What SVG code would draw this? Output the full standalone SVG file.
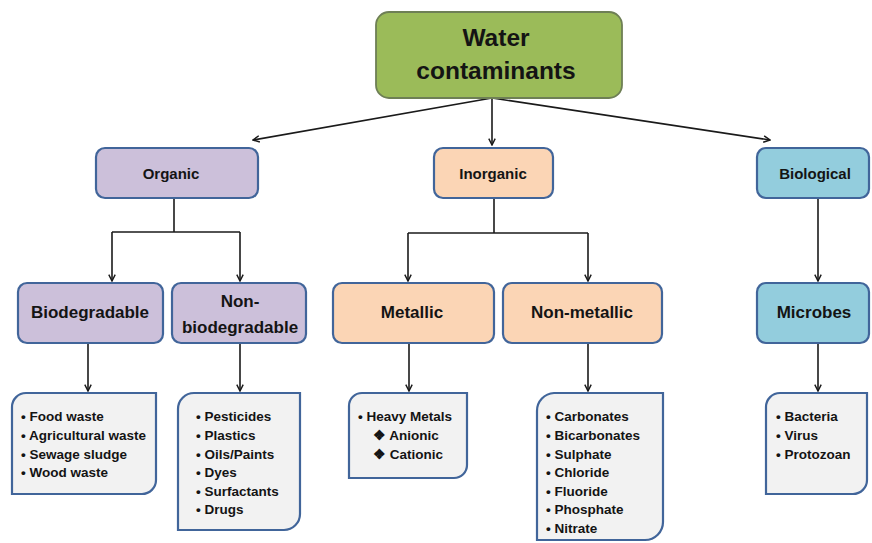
<svg xmlns="http://www.w3.org/2000/svg" width="872" height="543" viewBox="0 0 872 543">
  <style>
    text { font-family: "Liberation Sans", Arial, sans-serif; font-weight: bold; fill: #141414; }
    .box { stroke: #41659a; stroke-width: 2.2; }
    .org { fill: #ccc0da; }
    .inorg { fill: #fbd5b5; }
    .bio { fill: #93cddd; }
    .list { fill: #f2f2f2; stroke: #41659a; stroke-width: 2.2; }
    .t1 { font-size: 15px; text-anchor: middle; }
    .t2 { font-size: 17px; text-anchor: middle; }
    .li { font-size: 13.5px; }
    .conn line, .conn polyline { stroke: #1a1a1a; stroke-width: 1.6; fill: none; }
  </style>
  <defs>
    <marker id="arr" viewBox="0 0 10 10" refX="9" refY="5" markerWidth="8" markerHeight="8" orient="auto" markerUnits="userSpaceOnUse">
      <path d="M1,1 L9,5 L1,9" fill="none" stroke="#1a1a1a" stroke-width="1.8"/>
    </marker>
  </defs>
  <rect width="872" height="543" fill="#ffffff"/>

  <!-- connectors -->
  <g class="conn" id="connectors">
    <line x1="492" y1="98" x2="253" y2="140" marker-end="url(#arr)"/>
    <line x1="492" y1="98" x2="492" y2="145" marker-end="url(#arr)"/>
    <line x1="492" y1="98" x2="770" y2="140" marker-end="url(#arr)"/>

    <polyline points="174,198 174,232"/>
    <polyline points="112,232 240,232"/>
    <line x1="112" y1="232" x2="112" y2="281" marker-end="url(#arr)"/>
    <line x1="240" y1="232" x2="240" y2="281" marker-end="url(#arr)"/>

    <polyline points="494,198 494,233"/>
    <polyline points="408,233 588,233"/>
    <line x1="408" y1="233" x2="408" y2="281" marker-end="url(#arr)"/>
    <line x1="588" y1="233" x2="588" y2="281" marker-end="url(#arr)"/>

    <line x1="818" y1="198" x2="818" y2="281" marker-end="url(#arr)"/>

    <line x1="88" y1="344" x2="88" y2="391" marker-end="url(#arr)"/>
    <line x1="240" y1="344" x2="240" y2="391" marker-end="url(#arr)"/>
    <line x1="409" y1="344" x2="409" y2="391" marker-end="url(#arr)"/>
    <line x1="588" y1="344" x2="588" y2="391" marker-end="url(#arr)"/>
    <line x1="818" y1="344" x2="818" y2="391" marker-end="url(#arr)"/>
  </g>

  <!-- root -->
  <g id="water-contaminants">
    <rect x="376" y="12" width="246" height="86" rx="13" fill="#9bbb59" stroke="#6e7f55" stroke-width="1.8"/>
    <text x="496" y="46" font-size="24.5" text-anchor="middle">Water</text>
    <text x="496" y="79" font-size="24.5" text-anchor="middle">contaminants</text>
  </g>

  <!-- first level -->
  <g id="organic">
    <rect class="box org" x="96" y="148" width="162" height="50" rx="9"/>
    <text class="t1" x="171" y="179">Organic</text>
  </g>
  <g id="inorganic">
    <rect class="box inorg" x="434" y="148" width="119" height="50" rx="9"/>
    <text class="t1" x="493" y="179">Inorganic</text>
  </g>
  <g id="biological">
    <rect class="box bio" x="757" y="148" width="112" height="50" rx="9"/>
    <text class="t1" x="815" y="179">Biological</text>
  </g>

  <!-- second level -->
  <g id="biodegradable">
    <rect class="box org" x="18" y="283" width="145" height="60" rx="9"/>
    <text class="t2" x="90" y="318">Biodegradable</text>
  </g>
  <g id="non-biodegradable">
    <rect class="box org" x="172" y="283" width="134" height="60" rx="9"/>
    <text class="t2" x="240" y="307">Non-</text>
    <text class="t2" x="240" y="333">biodegradable</text>
  </g>
  <g id="metallic">
    <rect class="box inorg" x="333" y="283" width="161" height="60" rx="9"/>
    <text class="t2" x="412" y="318">Metallic</text>
  </g>
  <g id="non-metallic">
    <rect class="box inorg" x="503" y="283" width="159" height="60" rx="9"/>
    <text class="t2" x="582" y="318">Non-metallic</text>
  </g>
  <g id="microbes">
    <rect class="box bio" x="757" y="283" width="112" height="60" rx="9"/>
    <text class="t2" x="814" y="318">Microbes</text>
  </g>

  <!-- leaf lists: rounded top-left and bottom-right corners -->
  <g id="biodegradable-list">
    <path class="list" d="M26,393 H156 V480 A14,14 0 0 1 142,494 H12 V407 A14,14 0 0 1 26,393 Z"/>
    <text class="li" x="21" y="421">• Food waste</text>
    <text class="li" x="21" y="440">• Agricultural waste</text>
    <text class="li" x="21" y="459">• Sewage sludge</text>
    <text class="li" x="21" y="477">• Wood waste</text>
  </g>
  <g id="non-biodegradable-list">
    <path class="list" d="M194,393 H300 V514 A16,16 0 0 1 284,530 H178 V409 A16,16 0 0 1 194,393 Z"/>
    <text class="li" x="196" y="421">• Pesticides</text>
    <text class="li" x="196" y="440">• Plastics</text>
    <text class="li" x="196" y="459">• Oils/Paints</text>
    <text class="li" x="196" y="477">• Dyes</text>
    <text class="li" x="196" y="496">• Surfactants</text>
    <text class="li" x="196" y="514">• Drugs</text>
  </g>
  <g id="metallic-list">
    <path class="list" d="M362,393 H467 V465 A13,13 0 0 1 454,478 H349 V406 A13,13 0 0 1 362,393 Z"/>
    <text class="li" x="358" y="421">• Heavy Metals</text>
    <text class="li" x="373" y="440">❖ Anionic</text>
    <text class="li" x="373" y="459">❖ Cationic</text>
  </g>
  <g id="non-metallic-list">
    <path class="list" d="M554,393 H663 V522 A18,18 0 0 1 645,540 H537 V411 A18,18 0 0 1 554,393 Z"/>
    <text class="li" x="546" y="421">• Carbonates</text>
    <text class="li" x="546" y="440">• Bicarbonates</text>
    <text class="li" x="546" y="459">• Sulphate</text>
    <text class="li" x="546" y="477">• Chloride</text>
    <text class="li" x="546" y="496">• Fluoride</text>
    <text class="li" x="546" y="514">• Phosphate</text>
    <text class="li" x="546" y="533">• Nitrate</text>
  </g>
  <g id="microbes-list">
    <path class="list" d="M780,393 H867 V480 A14,14 0 0 1 853,494 H766 V407 A14,14 0 0 1 780,393 Z"/>
    <text class="li" x="776" y="421">• Bacteria</text>
    <text class="li" x="776" y="440">• Virus</text>
    <text class="li" x="776" y="459">• Protozoan</text>
  </g>
</svg>
